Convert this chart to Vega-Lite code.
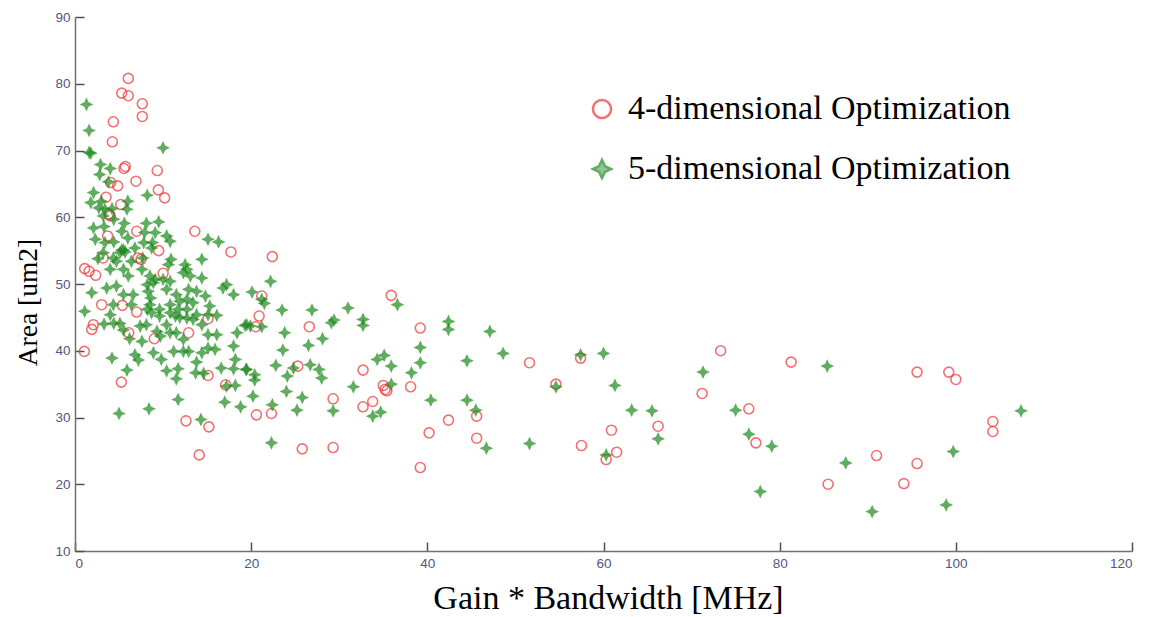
{
  "$schema": "https://vega.github.io/schema/vega-lite/v6.json",
  "width": 1057,
  "height": 534,
  "autosize": {"type": "none"},
  "padding": {"left": 75, "top": 17, "right": 20, "bottom": 66},
  "background": "white",
  "config": {
    "view": {"stroke": null},
    "axis": {
      "grid": false,
      "domainColor": "#707070",
      "domainWidth": 1.5,
      "tickColor": "#505050",
      "tickWidth": 1.5,
      "tickSize": -9,
      "labelPadding": 14,
      "labelColor": "#55557f",
      "labelFont": "Liberation Sans",
      "labelFontSize": 13.5,
      "titleFont": "Liberation Serif",
      "titleFontWeight": "normal",
      "titleColor": "#000000"
    },
    "legend": {
      "orient": "none",
      "legendX": 510,
      "legendY": 75,
      "padding": 0,
      "labelFont": "Liberation Serif",
      "labelFontSize": 34,
      "labelColor": "#000000",
      "labelOffset": 9,
      "labelLimit": 600,
      "rowPadding": 26,
      "symbolSize": 330,
      "symbolStrokeWidth": 2.5
    }
  },
  "data": {
    "values": [
      {"dim":4,"gbw":6.05,"area":80.8},{"dim":4,"gbw":5.3,"area":78.6},{"dim":4,"gbw":6.05,"area":78.2},{"dim":4,"gbw":7.64,"area":77.0},{"dim":4,"gbw":7.64,"area":75.1},
      {"dim":4,"gbw":4.35,"area":74.3},{"dim":4,"gbw":4.24,"area":71.3},{"dim":4,"gbw":5.71,"area":67.6},{"dim":4,"gbw":5.56,"area":67.3},{"dim":4,"gbw":9.34,"area":67.0},
      {"dim":4,"gbw":6.92,"area":65.4},{"dim":4,"gbw":4.05,"area":65.2},{"dim":4,"gbw":4.84,"area":64.7},{"dim":4,"gbw":9.46,"area":64.1},{"dim":4,"gbw":10.18,"area":62.9},
      {"dim":4,"gbw":3.52,"area":63.0},{"dim":4,"gbw":5.19,"area":61.9},{"dim":4,"gbw":3.86,"area":60.5},{"dim":4,"gbw":4.0,"area":60.2},{"dim":4,"gbw":7.0,"area":57.9},
      {"dim":4,"gbw":3.7,"area":57.2},{"dim":4,"gbw":13.6,"area":57.9},{"dim":4,"gbw":9.5,"area":55.0},{"dim":4,"gbw":17.7,"area":54.8},{"dim":4,"gbw":7.15,"area":53.9},
      {"dim":4,"gbw":7.5,"area":53.7},{"dim":4,"gbw":3.18,"area":53.9},{"dim":4,"gbw":22.4,"area":54.1},{"dim":4,"gbw":1.1,"area":52.3},{"dim":4,"gbw":1.6,"area":51.9},
      {"dim":4,"gbw":2.35,"area":51.3},{"dim":4,"gbw":10.0,"area":51.6},{"dim":4,"gbw":3.03,"area":46.9},{"dim":4,"gbw":5.37,"area":46.8},{"dim":4,"gbw":7.0,"area":45.8},
      {"dim":4,"gbw":2.08,"area":43.9},{"dim":4,"gbw":1.9,"area":43.2},{"dim":4,"gbw":6.1,"area":42.7},{"dim":4,"gbw":12.9,"area":42.7},{"dim":4,"gbw":9.0,"area":41.8},
      {"dim":4,"gbw":15.1,"area":44.8},{"dim":4,"gbw":1.06,"area":39.9},{"dim":4,"gbw":15.1,"area":36.3},{"dim":4,"gbw":5.26,"area":35.3},{"dim":4,"gbw":17.1,"area":34.9},
      {"dim":4,"gbw":12.6,"area":29.5},{"dim":4,"gbw":15.2,"area":28.6},{"dim":4,"gbw":14.1,"area":24.4},{"dim":4,"gbw":21.2,"area":48.2},{"dim":4,"gbw":20.9,"area":45.2},
      {"dim":4,"gbw":20.5,"area":43.6},{"dim":4,"gbw":35.9,"area":48.3},{"dim":4,"gbw":26.6,"area":43.6},{"dim":4,"gbw":39.2,"area":43.4},{"dim":4,"gbw":25.3,"area":37.7},
      {"dim":4,"gbw":32.7,"area":37.1},{"dim":4,"gbw":51.6,"area":38.2},{"dim":4,"gbw":35.0,"area":34.8},{"dim":4,"gbw":35.2,"area":34.2},{"dim":4,"gbw":35.4,"area":34.0},
      {"dim":4,"gbw":38.1,"area":34.6},{"dim":4,"gbw":29.3,"area":32.8},{"dim":4,"gbw":32.7,"area":31.6},{"dim":4,"gbw":33.8,"area":32.4},{"dim":4,"gbw":20.6,"area":30.4},
      {"dim":4,"gbw":22.3,"area":30.6},{"dim":4,"gbw":42.4,"area":29.6},{"dim":4,"gbw":45.6,"area":30.2},{"dim":4,"gbw":40.2,"area":27.7},{"dim":4,"gbw":45.6,"area":26.9},
      {"dim":4,"gbw":25.8,"area":25.3},{"dim":4,"gbw":29.3,"area":25.5},{"dim":4,"gbw":39.2,"area":22.5},{"dim":4,"gbw":57.4,"area":38.9},{"dim":4,"gbw":54.6,"area":35.0},
      {"dim":4,"gbw":73.3,"area":40.0},{"dim":4,"gbw":81.3,"area":38.3},{"dim":4,"gbw":71.2,"area":33.6},{"dim":4,"gbw":76.5,"area":31.3},{"dim":4,"gbw":66.2,"area":28.7},
      {"dim":4,"gbw":60.9,"area":28.1},{"dim":4,"gbw":57.5,"area":25.8},{"dim":4,"gbw":61.5,"area":24.8},{"dim":4,"gbw":60.3,"area":23.7},{"dim":4,"gbw":77.3,"area":26.2},
      {"dim":4,"gbw":85.5,"area":20.0},{"dim":4,"gbw":95.6,"area":36.8},{"dim":4,"gbw":99.2,"area":36.8},{"dim":4,"gbw":100.0,"area":35.7},{"dim":4,"gbw":104.2,"area":29.4},
      {"dim":4,"gbw":104.2,"area":27.9},{"dim":4,"gbw":91.0,"area":24.3},{"dim":4,"gbw":95.6,"area":23.1},{"dim":4,"gbw":94.1,"area":20.1},

      {"dim":5,"gbw":1.3,"area":76.9},{"dim":5,"gbw":1.6,"area":73.0},{"dim":5,"gbw":1.6,"area":69.7},{"dim":5,"gbw":1.8,"area":69.6},{"dim":5,"gbw":10.0,"area":70.4},
      {"dim":5,"gbw":2.9,"area":67.9},{"dim":5,"gbw":4.0,"area":67.3},{"dim":5,"gbw":2.8,"area":66.4},{"dim":5,"gbw":3.8,"area":65.3},{"dim":5,"gbw":2.1,"area":63.7},
      {"dim":5,"gbw":1.8,"area":62.2},{"dim":5,"gbw":3.0,"area":62.4},{"dim":5,"gbw":6.0,"area":62.4},{"dim":5,"gbw":8.2,"area":63.3},{"dim":5,"gbw":2.7,"area":61.4},
      {"dim":5,"gbw":3.4,"area":61.2},{"dim":5,"gbw":4.2,"area":61.3},{"dim":5,"gbw":4.4,"area":59.7},{"dim":5,"gbw":5.9,"area":61.2},{"dim":5,"gbw":3.2,"area":60.2},
      {"dim":5,"gbw":2.1,"area":58.4},{"dim":5,"gbw":3.3,"area":58.6},{"dim":5,"gbw":5.6,"area":59.1},{"dim":5,"gbw":8.1,"area":59.1},{"dim":5,"gbw":9.5,"area":59.3},
      {"dim":5,"gbw":5.3,"area":57.9},{"dim":5,"gbw":6.0,"area":56.9},{"dim":5,"gbw":7.9,"area":57.7},{"dim":5,"gbw":9.1,"area":57.7},{"dim":5,"gbw":10.4,"area":57.2},
      {"dim":5,"gbw":10.8,"area":56.4},{"dim":5,"gbw":15.1,"area":56.7},{"dim":5,"gbw":16.3,"area":56.3},{"dim":5,"gbw":2.3,"area":56.7},{"dim":5,"gbw":3.4,"area":56.2},
      {"dim":5,"gbw":4.4,"area":56.3},{"dim":5,"gbw":7.8,"area":56.2},{"dim":5,"gbw":8.8,"area":56.2},{"dim":5,"gbw":5.5,"area":55.1},{"dim":5,"gbw":5.1,"area":54.7},
      {"dim":5,"gbw":3.2,"area":54.7},{"dim":5,"gbw":14.4,"area":53.7},{"dim":5,"gbw":8.7,"area":55.4},{"dim":5,"gbw":6.8,"area":55.4},{"dim":5,"gbw":5.3,"area":55.1},
      {"dim":5,"gbw":5.7,"area":54.8},{"dim":5,"gbw":2.6,"area":53.8},{"dim":5,"gbw":4.35,"area":53.9},{"dim":5,"gbw":4.7,"area":53.4},{"dim":5,"gbw":6.4,"area":53.4},
      {"dim":5,"gbw":7.7,"area":53.9},{"dim":5,"gbw":10.9,"area":53.7},{"dim":5,"gbw":12.5,"area":52.9},{"dim":5,"gbw":12.7,"area":52.2},{"dim":5,"gbw":10.6,"area":52.9},
      {"dim":5,"gbw":4.0,"area":52.2},{"dim":5,"gbw":5.5,"area":52.2},{"dim":5,"gbw":6.05,"area":51.2},{"dim":5,"gbw":7.6,"area":52.2},{"dim":5,"gbw":8.5,"area":51.2},
      {"dim":5,"gbw":9.1,"area":50.7},{"dim":5,"gbw":10.0,"area":50.7},{"dim":5,"gbw":10.8,"area":50.4},{"dim":5,"gbw":12.3,"area":51.7},{"dim":5,"gbw":13.1,"area":51.2},
      {"dim":5,"gbw":14.4,"area":50.9},{"dim":5,"gbw":17.2,"area":49.9},{"dim":5,"gbw":16.8,"area":49.4},{"dim":5,"gbw":18.0,"area":48.4},{"dim":5,"gbw":12.9,"area":49.2},
      {"dim":5,"gbw":13.8,"area":48.9},{"dim":5,"gbw":11.5,"area":48.4},{"dim":5,"gbw":11.9,"area":47.4},{"dim":5,"gbw":14.8,"area":48.2},{"dim":5,"gbw":1.9,"area":48.7},
      {"dim":5,"gbw":3.6,"area":49.4},{"dim":5,"gbw":4.7,"area":49.7},{"dim":5,"gbw":5.5,"area":48.4},{"dim":5,"gbw":6.6,"area":48.4},{"dim":5,"gbw":8.2,"area":49.9},
      {"dim":5,"gbw":8.9,"area":50.2},{"dim":5,"gbw":8.3,"area":48.9},{"dim":5,"gbw":8.6,"area":47.9},{"dim":5,"gbw":8.5,"area":46.9},{"dim":5,"gbw":8.2,"area":46.2},
      {"dim":5,"gbw":8.7,"area":45.7},{"dim":5,"gbw":10.4,"area":49.2},{"dim":5,"gbw":10.8,"area":46.9},{"dim":5,"gbw":9.6,"area":46.2},{"dim":5,"gbw":12.7,"area":47.7},
      {"dim":5,"gbw":13.4,"area":47.2},{"dim":5,"gbw":11.7,"area":46.2},{"dim":5,"gbw":10.8,"area":45.7},{"dim":5,"gbw":15.3,"area":46.7},{"dim":5,"gbw":15.1,"area":45.4},
      {"dim":5,"gbw":1.1,"area":45.9},{"dim":5,"gbw":4.35,"area":46.9},{"dim":5,"gbw":4.0,"area":45.4},{"dim":5,"gbw":6.4,"area":46.9},{"dim":5,"gbw":9.6,"area":45.2},
      {"dim":5,"gbw":11.4,"area":45.2},{"dim":5,"gbw":12.7,"area":44.9},{"dim":5,"gbw":13.8,"area":45.4},{"dim":5,"gbw":3.3,"area":44.0},{"dim":5,"gbw":4.4,"area":44.1},
      {"dim":5,"gbw":5.1,"area":44.1},{"dim":5,"gbw":5.5,"area":43.1},{"dim":5,"gbw":7.4,"area":43.7},{"dim":5,"gbw":8.1,"area":43.9},{"dim":5,"gbw":9.3,"area":42.9},
      {"dim":5,"gbw":9.7,"area":42.2},{"dim":5,"gbw":10.4,"area":43.9},{"dim":5,"gbw":10.8,"area":42.7},{"dim":5,"gbw":11.9,"area":45.0},{"dim":5,"gbw":12.7,"area":46.2},
      {"dim":5,"gbw":13.4,"area":44.7},{"dim":5,"gbw":14.4,"area":43.9},{"dim":5,"gbw":16.1,"area":45.3},{"dim":5,"gbw":11.5,"area":42.7},{"dim":5,"gbw":12.3,"area":41.7},
      {"dim":5,"gbw":6.2,"area":41.8},{"dim":5,"gbw":7.6,"area":41.4},{"dim":5,"gbw":15.1,"area":42.4},{"dim":5,"gbw":16.1,"area":42.4},{"dim":5,"gbw":18.4,"area":42.7},
      {"dim":5,"gbw":19.5,"area":43.9},{"dim":5,"gbw":18.0,"area":40.7},{"dim":5,"gbw":15.1,"area":40.4},{"dim":5,"gbw":15.9,"area":40.2},{"dim":5,"gbw":14.4,"area":39.7},
      {"dim":5,"gbw":11.2,"area":39.9},{"dim":5,"gbw":12.3,"area":39.9},{"dim":5,"gbw":12.9,"area":39.9},{"dim":5,"gbw":8.9,"area":39.7},{"dim":5,"gbw":9.8,"area":38.7},
      {"dim":5,"gbw":6.8,"area":39.4},{"dim":5,"gbw":7.2,"area":38.6},{"dim":5,"gbw":4.2,"area":38.9},{"dim":5,"gbw":13.8,"area":38.3},{"dim":5,"gbw":18.2,"area":38.7},
      {"dim":5,"gbw":5.9,"area":37.1},{"dim":5,"gbw":10.4,"area":37.0},{"dim":5,"gbw":11.7,"area":37.3},{"dim":5,"gbw":11.5,"area":35.8},{"dim":5,"gbw":13.7,"area":36.7},
      {"dim":5,"gbw":14.6,"area":36.6},{"dim":5,"gbw":16.6,"area":37.4},{"dim":5,"gbw":18.0,"area":37.3},{"dim":5,"gbw":19.5,"area":37.2},{"dim":5,"gbw":17.2,"area":34.7},
      {"dim":5,"gbw":18.2,"area":34.8},{"dim":5,"gbw":11.7,"area":32.7},{"dim":5,"gbw":17.0,"area":32.3},{"dim":5,"gbw":18.8,"area":31.6},{"dim":5,"gbw":8.4,"area":31.3},
      {"dim":5,"gbw":5.0,"area":30.6},{"dim":5,"gbw":14.3,"area":29.7},{"dim":5,"gbw":22.2,"area":50.4},{"dim":5,"gbw":20.1,"area":48.8},{"dim":5,"gbw":21.2,"area":47.7},
      {"dim":5,"gbw":21.5,"area":47.1},{"dim":5,"gbw":19.3,"area":43.8},{"dim":5,"gbw":19.9,"area":43.7},{"dim":5,"gbw":21.2,"area":43.6},{"dim":5,"gbw":23.5,"area":46.1},
      {"dim":5,"gbw":26.9,"area":46.1},{"dim":5,"gbw":31.0,"area":46.4},{"dim":5,"gbw":36.6,"area":46.9},{"dim":5,"gbw":29.1,"area":44.2},{"dim":5,"gbw":29.4,"area":44.6},
      {"dim":5,"gbw":32.7,"area":44.7},{"dim":5,"gbw":32.7,"area":43.8},{"dim":5,"gbw":42.4,"area":44.4},{"dim":5,"gbw":42.4,"area":43.2},{"dim":5,"gbw":47.1,"area":42.9},
      {"dim":5,"gbw":23.8,"area":42.7},{"dim":5,"gbw":28.1,"area":41.8},{"dim":5,"gbw":23.6,"area":40.1},{"dim":5,"gbw":26.5,"area":40.8},{"dim":5,"gbw":39.2,"area":40.5},
      {"dim":5,"gbw":48.6,"area":39.6},{"dim":5,"gbw":34.3,"area":38.7},{"dim":5,"gbw":35.1,"area":39.3},{"dim":5,"gbw":35.9,"area":37.7},{"dim":5,"gbw":39.2,"area":38.2},
      {"dim":5,"gbw":44.5,"area":38.5},{"dim":5,"gbw":38.2,"area":36.7},{"dim":5,"gbw":22.8,"area":37.8},{"dim":5,"gbw":19.4,"area":37.2},{"dim":5,"gbw":20.4,"area":36.4},
      {"dim":5,"gbw":20.4,"area":35.6},{"dim":5,"gbw":24.1,"area":36.2},{"dim":5,"gbw":24.8,"area":37.4},{"dim":5,"gbw":26.7,"area":37.9},{"dim":5,"gbw":27.7,"area":37.2},
      {"dim":5,"gbw":28.0,"area":35.9},{"dim":5,"gbw":31.6,"area":34.6},{"dim":5,"gbw":35.9,"area":35.0},{"dim":5,"gbw":24.0,"area":33.9},{"dim":5,"gbw":20.2,"area":33.2},
      {"dim":5,"gbw":25.8,"area":33.0},{"dim":5,"gbw":22.4,"area":31.9},{"dim":5,"gbw":25.2,"area":31.1},{"dim":5,"gbw":29.3,"area":31.0},{"dim":5,"gbw":40.4,"area":32.6},
      {"dim":5,"gbw":44.5,"area":32.6},{"dim":5,"gbw":45.5,"area":31.1},{"dim":5,"gbw":33.8,"area":30.2},{"dim":5,"gbw":34.7,"area":30.8},{"dim":5,"gbw":22.3,"area":26.2},
      {"dim":5,"gbw":46.7,"area":25.4},{"dim":5,"gbw":51.6,"area":26.1},{"dim":5,"gbw":57.4,"area":39.4},{"dim":5,"gbw":60.0,"area":39.6},{"dim":5,"gbw":54.6,"area":34.6},
      {"dim":5,"gbw":61.3,"area":34.8},{"dim":5,"gbw":71.3,"area":36.8},{"dim":5,"gbw":85.4,"area":37.7},{"dim":5,"gbw":63.2,"area":31.1},{"dim":5,"gbw":65.5,"area":31.0},
      {"dim":5,"gbw":75.0,"area":31.1},{"dim":5,"gbw":66.2,"area":26.8},{"dim":5,"gbw":60.3,"area":24.4},{"dim":5,"gbw":76.5,"area":27.5},{"dim":5,"gbw":79.1,"area":25.7},
      {"dim":5,"gbw":77.8,"area":18.9},{"dim":5,"gbw":87.5,"area":23.2},{"dim":5,"gbw":107.4,"area":31.0},{"dim":5,"gbw":99.7,"area":24.9},{"dim":5,"gbw":90.5,"area":15.9},
      {"dim":5,"gbw":98.9,"area":16.9}
    ]
  },
  "mark": {"type": "point", "filled": true, "strokeWidth": 1.6, "size": 100},
  "encoding": {
    "x": {
      "field": "gbw",
      "type": "quantitative",
      "scale": {"domain": [0, 120], "nice": false, "zero": false},
      "axis": {"values": [0, 20, 40, 60, 80, 100, 120], "title": "Gain * Bandwidth [MHz]", "titleFontSize": 34, "titlePadding": 12, "titleX": 533}
    },
    "y": {
      "field": "area",
      "type": "quantitative",
      "scale": {"domain": [10, 90], "nice": false, "zero": false},
      "axis": {"values": [10, 20, 30, 40, 50, 60, 70, 80, 90], "title": "Area [um2]", "titleFontSize": 27.5, "titlePadding": 12, "titleY": 285}
    },
    "stroke": {
      "field": "dim",
      "type": "nominal",
      "scale": {"domain": [4, 5], "range": ["#ee3636", "#1e8b1e"]},
      "legend": {"title": null, "labelExpr": "datum.label + '-dimensional Optimization'"}
    },
    "fill": {
      "field": "dim",
      "type": "nominal",
      "scale": {"domain": [4, 5], "range": ["rgba(255,255,255,0)", "#1e8b1e"]},
      "legend": {"title": null, "labelExpr": "datum.label + '-dimensional Optimization'"}
    },
    "shape": {
      "field": "dim",
      "type": "nominal",
      "scale": {"domain": [4, 5], "range": ["circle", "M0,-1L0.32,-0.32L1,0L0.32,0.32L0,1L-0.32,0.32L-1,0L-0.32,-0.32Z"]},
      "legend": {"title": null, "labelExpr": "datum.label + '-dimensional Optimization'"}
    }
  }
}
